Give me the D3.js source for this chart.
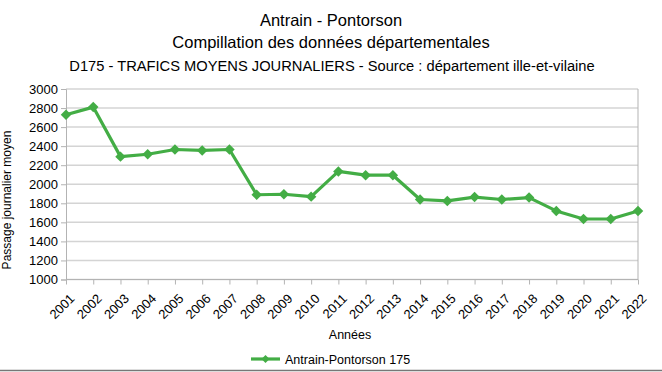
<!DOCTYPE html>
<html>
<head>
<meta charset="utf-8">
<script src="https://cdn.jsdelivr.net/npm/d3@7"></script>
<style>
  body { margin: 0; background: #fff; }
  svg { font-family: "Liberation Sans", Arial, sans-serif; }
</style>
</head>
<body>
<svg id="chart" width="662" height="372"></svg>
<script>
// data
const years = ['2001','2002','2003','2004','2005','2006','2007','2008','2009','2010','2011',
  '2012','2013','2014','2015','2016','2017','2018','2019','2020','2021','2022'];
const trafic = [2730,2810,2290,2315,2365,2355,2365,1890,1895,1870,2135,
  2095,2095,1840,1825,1865,1840,1860,1720,1635,1635,1720];
const yTicks = [1000,1200,1400,1600,1800,2000,2200,2400,2600,2800,3000];
const seriesName = 'Antrain-Pontorson 175';

const svg = d3.select('#chart');
const W = 662, H = 372;
const mLeft = 66, mRight = 638, mTop = 89, mBottom = 279.5;
const green = '#43ad45';

const x = d3.scalePoint().domain(years).range([mLeft, mRight]);
const y = d3.scaleLinear().domain([1000, 3000]).range([mBottom, mTop]);

// titles
svg.append('text').attr('x', 331).attr('y', 26).attr('text-anchor', 'middle')
  .attr('font-size', 16.5).attr('fill', '#000').text('Antrain - Pontorson');
svg.append('text').attr('x', 331).attr('y', 48).attr('text-anchor', 'middle')
  .attr('font-size', 16.5).attr('fill', '#000').text('Compillation des données départementales');
svg.append('text').attr('x', 332).attr('y', 71).attr('text-anchor', 'middle')
  .attr('font-size', 14.7).attr('fill', '#000').text('D175 - TRAFICS MOYENS JOURNALIERS - Source : département ille-et-vilaine');

// grid
svg.append('g').selectAll('line').data(yTicks).join('line')
  .attr('x1', mLeft).attr('x2', mRight)
  .attr('y1', d => y(d)).attr('y2', d => y(d))
  .attr('stroke', '#d4d4d4').attr('stroke-width', 1.5);

// y axis
const yAxis = svg.append('g').attr('transform', `translate(${mLeft},0)`)
  .call(d3.axisLeft(y).tickValues(yTicks).tickSize(5).tickPadding(3).tickFormat(d3.format('d')));
yAxis.select('.domain').attr('stroke', '#b3b3b3');
yAxis.selectAll('.tick line').attr('stroke', '#b3b3b3');
yAxis.selectAll('text').attr('font-size', 13).attr('fill', '#000')
  .attr('font-family', '"Liberation Sans", Arial, sans-serif');

// right border
svg.append('line').attr('x1', mRight).attr('x2', mRight).attr('y1', mTop).attr('y2', mBottom)
  .attr('stroke', '#b3b3b3');

// x axis
const xAxis = svg.append('g').attr('transform', `translate(0,${mBottom})`)
  .call(d3.axisBottom(x).tickSize(5).tickPadding(3));
xAxis.select('.domain').attr('stroke', '#b3b3b3').attr('d', `M${mLeft},0H${mRight}`);
xAxis.selectAll('.tick line').attr('stroke', '#b3b3b3');
xAxis.selectAll('text').attr('font-size', 13).attr('fill', '#000')
  .attr('font-family', '"Liberation Sans", Arial, sans-serif')
  .attr('text-anchor', 'end').attr('dy', '0.35em')
  .attr('transform', 'translate(0,11) rotate(-45)');

// axis titles
svg.append('text').attr('transform', `translate(10.5,200) rotate(-90)`)
  .attr('text-anchor', 'middle').attr('font-size', 12).attr('fill', '#000')
  .text('Passage journalier moyen');
svg.append('text').attr('x', 350).attr('y', 339).attr('text-anchor', 'middle')
  .attr('font-size', 12.5).attr('fill', '#000').text('Années');

// line
const line = d3.line().x((d, i) => x(years[i])).y(d => y(d));
svg.append('path').datum(trafic).attr('d', line)
  .attr('fill', 'none').attr('stroke', green).attr('stroke-width', 3.2)
  .attr('stroke-linejoin', 'round');

const diamond = d3.symbol().type(d3.symbolDiamond2).size(70);
svg.append('g').selectAll('path').data(trafic).join('path')
  .attr('d', diamond)
  .attr('transform', (d, i) => `translate(${x(years[i])},${y(d)})`)
  .attr('fill', green);

// legend
svg.append('line').attr('x1', 251).attr('x2', 280).attr('y1', 359).attr('y2', 359)
  .attr('stroke', green).attr('stroke-width', 3.2);
svg.append('path').attr('d', d3.symbol().type(d3.symbolDiamond2).size(40))
  .attr('transform', 'translate(265.5,359)').attr('fill', green);
svg.append('text').attr('x', 285).attr('y', 364).attr('font-size', 12.5).attr('fill', '#000')
  .text(seriesName);

// bottom frame line
svg.append('line').attr('x1', 0).attr('x2', W).attr('y1', 370.5).attr('y2', 370.5)
  .attr('stroke', '#777').attr('stroke-width', 1.5);
</script>
</body>
</html>
